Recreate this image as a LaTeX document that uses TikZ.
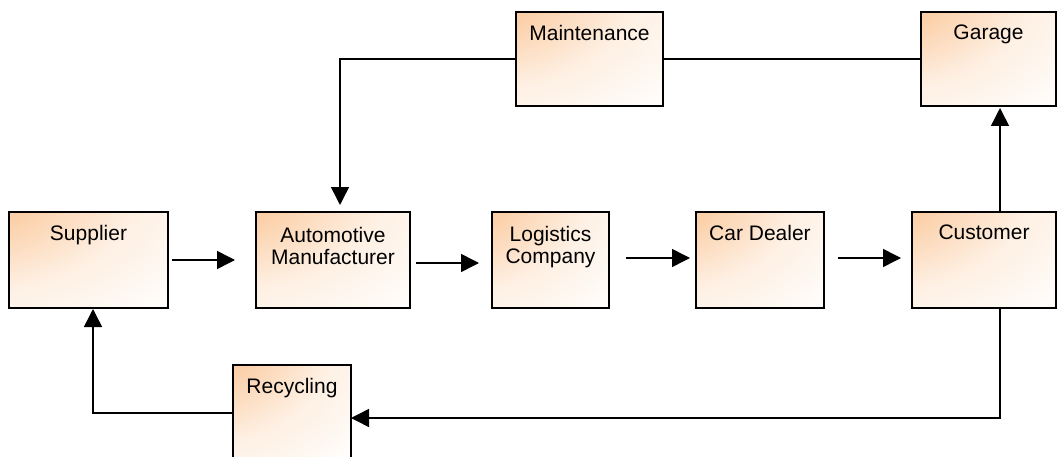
\documentclass[tikz,border=0pt]{standalone}
\usepackage{fontspec}
\setmainfont{Liberation Sans}
\usetikzlibrary{arrows.meta}
\definecolor{peach}{RGB}{250,192,140}
% peach fill that fades from the top-left corner towards white
\pgfdeclareradialshading{boxfade}{\pgfpoint{-50bp}{50bp}}{%
  color(0bp)=(peach);
  color(24bp)=(peach!85!white);
  color(52bp)=(peach!25!white);
  color(80bp)=(white);
  color(200bp)=(white)}
\tikzset{
  box/.style={draw=black, line width=1.4pt, shading=boxfade,
    inner sep=0pt, outer sep=0pt, anchor=north west},
  lbl/.style={inner sep=0pt, anchor=north, align=center,
    font=\fontsize{21pt}{22pt}\selectfont},
  link/.style={line width=1.5pt},
  arr/.style={line width=1.5pt, -{Triangle[length=18pt,width=18pt]}}
}
\begin{document}
\begin{tikzpicture}[x=1pt,y=-1pt]
\useasboundingbox (0,0) rectangle (1059,457);

% boxes
\node[box, minimum width=159pt, minimum height=96pt] (sup)  at (9,212)   {};
\node[box, minimum width=154pt, minimum height=96pt] (am)   at (256,212) {};
\node[box, minimum width=117pt, minimum height=96pt] (log)  at (492,212) {};
\node[box, minimum width=128pt, minimum height=96pt] (cd)   at (696,212) {};
\node[box, minimum width=144pt, minimum height=96pt] (cust) at (912,212) {};
\node[box, minimum width=147pt, minimum height=94pt] (mnt)  at (516,12)  {};
\node[box, minimum width=135pt, minimum height=94pt] (gar)  at (921,12)  {};
\node[box, minimum width=118pt, minimum height=96pt] (rec)  at (233,365) {};

% labels
\node[lbl] (supT)  at ([yshift=-13pt]sup.north)  {Supplier};
\node[lbl] (amT)   at ([yshift=-15pt]am.north)   {Automotive\\Manufacturer};
\node[lbl] (logT)  at ([yshift=-14pt]log.north)  {Logistics\\Company};
\node[lbl] (cdT)   at ([yshift=-13pt]cd.north)   {Car Dealer};
\node[lbl] (custT) at ([yshift=-13pt]cust.north) {Customer};
\node[lbl] (mntT)  at ([yshift=-13pt]mnt.north)  {Maintenance};
\node[lbl] (garT)  at ([yshift=-13pt]gar.north)  {Garage};
\node[lbl] (recT)  at ([yshift=-13pt]rec.north)  {Recycling};

% main chain
\draw[arr, shorten <=4pt, shorten >=21pt] (sup.east) -- (am.west);
\draw[arr, shorten <=6pt, shorten >=13pt] ([yshift=-3pt]am.east) -- ([yshift=-3pt]log.west);
\draw[arr, shorten <=17pt, shorten >=6pt] ([yshift=2pt]log.east) -- ([yshift=2pt]cd.west);
\draw[arr, shorten <=14pt, shorten >=11pt] ([yshift=2pt]cd.east) -- ([yshift=2pt]cust.west);

% customer to garage
\draw[arr, shorten >=2pt] ([xshift=16pt]cust.north) -- ([xshift=16pt]cust.north |- gar.south);

% maintenance loop
\draw[link] (mnt.east) -- (gar.west);
\draw[arr, shorten >=7pt] (mnt.west) -| ([xshift=7pt]am.north);

% recycling loop
\draw[arr] ([xshift=16pt]cust.south) |- ([yshift=-5pt]rec.east);
\draw[arr, shorten >=1pt] (rec.west) -| ([xshift=4.5pt]sup.south);
\end{tikzpicture}
\end{document}
